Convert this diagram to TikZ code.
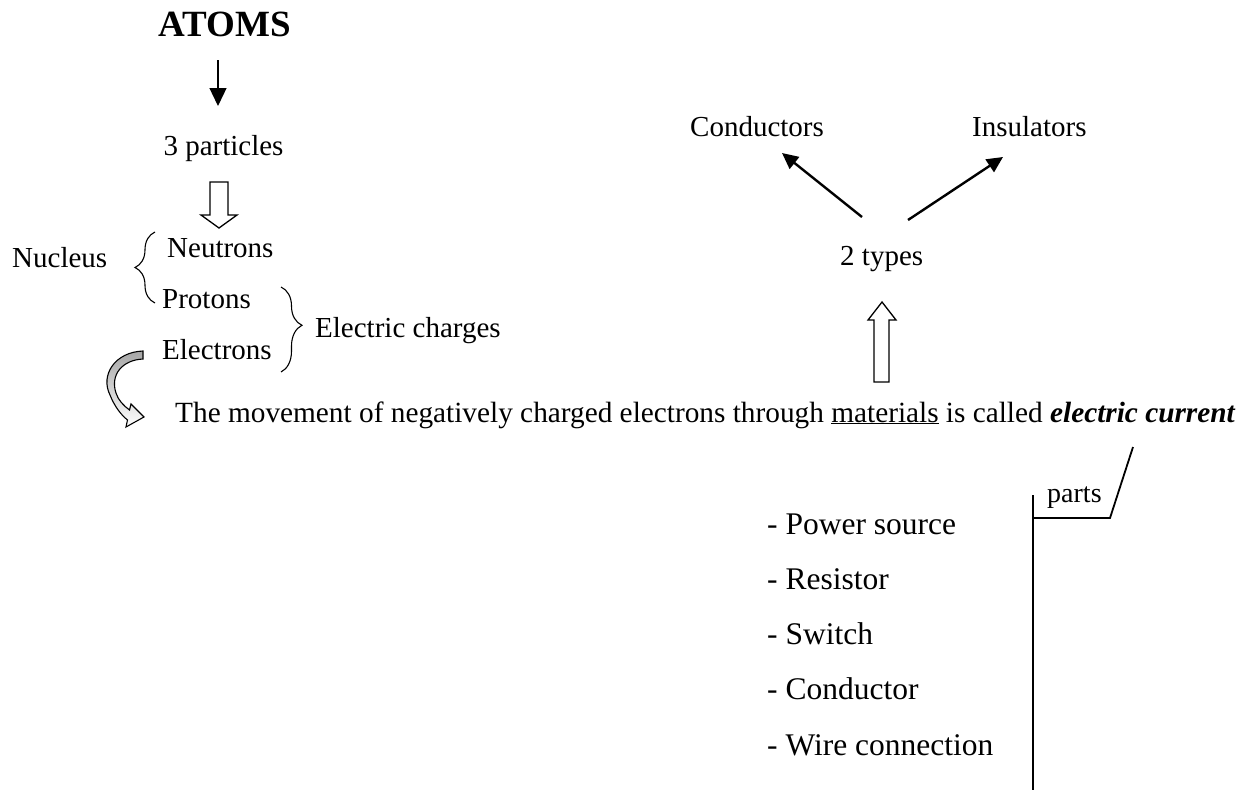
\documentclass[tikz,border=0pt]{standalone}
\usepackage{fontspec}
\setmainfont{Liberation Serif}
\usetikzlibrary{arrows.meta,decorations.pathreplacing}
\tikzset{
  txt/.style={inner sep=0pt,anchor=base west,font=\fontsize{29}{34}\selectfont},
  listtxt/.style={inner sep=0pt,anchor=base west,font=\fontsize{31.5}{36}\selectfont},
  thinline/.style={line width=1.3pt},
  hollow/.style={line width=1.3pt,fill=white,line join=miter},
  typearrow/.style={line width=2.4pt,-{Triangle[width=15pt,length=16pt]}},
  bracestyle/.style={line width=1.1pt,decorate},
}
\begin{document}
\begin{tikzpicture}[x=1pt,y=-1pt]
\useasboundingbox (0,0) rectangle (1246,795);
% texts
\node[inner sep=0pt,anchor=base,font=\fontsize{37}{42}\selectfont\bfseries] (atoms) at (225,36) {ATOMS};
\node[txt,anchor=base] (particles) at (223.5,155) {3 particles};
\node[txt] (nucleus) at (12,267) {Nucleus};
\node[txt] (neutrons) at (167,257) {Neutrons};
\node[txt] (protons) at (162,308) {Protons};
\node[txt] (electrons) at (162,359) {Electrons};
\node[txt] (charges) at (315,337) {Electric charges};
\node[txt,font=\fontsize{29.3}{34}\selectfont] (sentence) at (175,422) {The movement of negatively charged electrons through \underline{materials} is called \textbf{\textit{electric current}}};
\node[txt] (conductors) at (690,136) {Conductors};
\node[txt] (insulators) at (972,136) {Insulators};
\node[txt] (types) at (840,265) {2 types};
\node[inner sep=0pt,anchor=base west,font=\fontsize{28}{32}\selectfont] (parts) at (1047,502) {parts};
\node[listtxt] (l1) at (767,534) {- Power source};
\node[listtxt] (l2) at (767,589) {- Resistor};
\node[listtxt] (l3) at (767,644) {- Switch};
\node[listtxt] (l4) at (767,699) {- Conductor};
\node[listtxt] (l5) at (767,755) {- Wire connection};
% thin arrow atoms -> particles
\coordinate (a1s) at (218,60);
\coordinate (a1e) at (218,106);
\draw[thinline,-{Triangle[width=17pt,length=18pt]}] (a1s) -- (a1e);
% hollow down arrow
\draw[hollow] (210,182) -- (228,182) -- (228,215) -- (237,215) -- (219,228) -- (201,215) -- (210,215) -- cycle;
% braces
\coordinate (lb1) at (155,303);
\coordinate (lb2) at (155,232);
\draw[bracestyle,decoration={brace,amplitude=20pt}] (lb1) -- (lb2);
\coordinate (rb1) at (281,287);
\coordinate (rb2) at (281,372);
\draw[bracestyle,decoration={brace,amplitude=21pt,aspect=0.45}] (rb1) -- (rb2);
% curved arrow
\path[draw,line width=1.1pt,top color=black!35,bottom color=white,line join=miter]
  (143,351) .. controls (115,352) and (100,375) .. (110,395)
  .. controls (114,405) and (120,414) .. (127.5,420)
  -- (126,427) -- (144,417) -- (131,404) -- (129.5,410)
  .. controls (124,406) and (118,400) .. (116,393)
  .. controls (110,375) and (122,360) .. (143,359) -- cycle;
% hollow up arrow
\draw[hollow] (874,382) -- (874,320) -- (868,320) -- (882,302) -- (896,320) -- (889,320) -- (889,382) -- cycle;
% type arrows
\coordinate (t1) at (862,217);
\coordinate (t1e) at (782,153);
\coordinate (t2) at (908,220);
\coordinate (t2e) at (1003,157);
\draw[typearrow] (t1) -- (t1e);
\draw[typearrow] (t2) -- (t2e);
% parts bracket
\coordinate (p1) at (1133,447);
\coordinate (p2) at (1110,518);
\coordinate (p3) at (1033,518);
\coordinate (p4) at (1033,495);
\coordinate (p5) at (1033,790);
\draw[line width=1.8pt] (p1) -- (p2) -- (p3);
\draw[line width=1.8pt] (p4) -- (p5);
\end{tikzpicture}
\end{document}
